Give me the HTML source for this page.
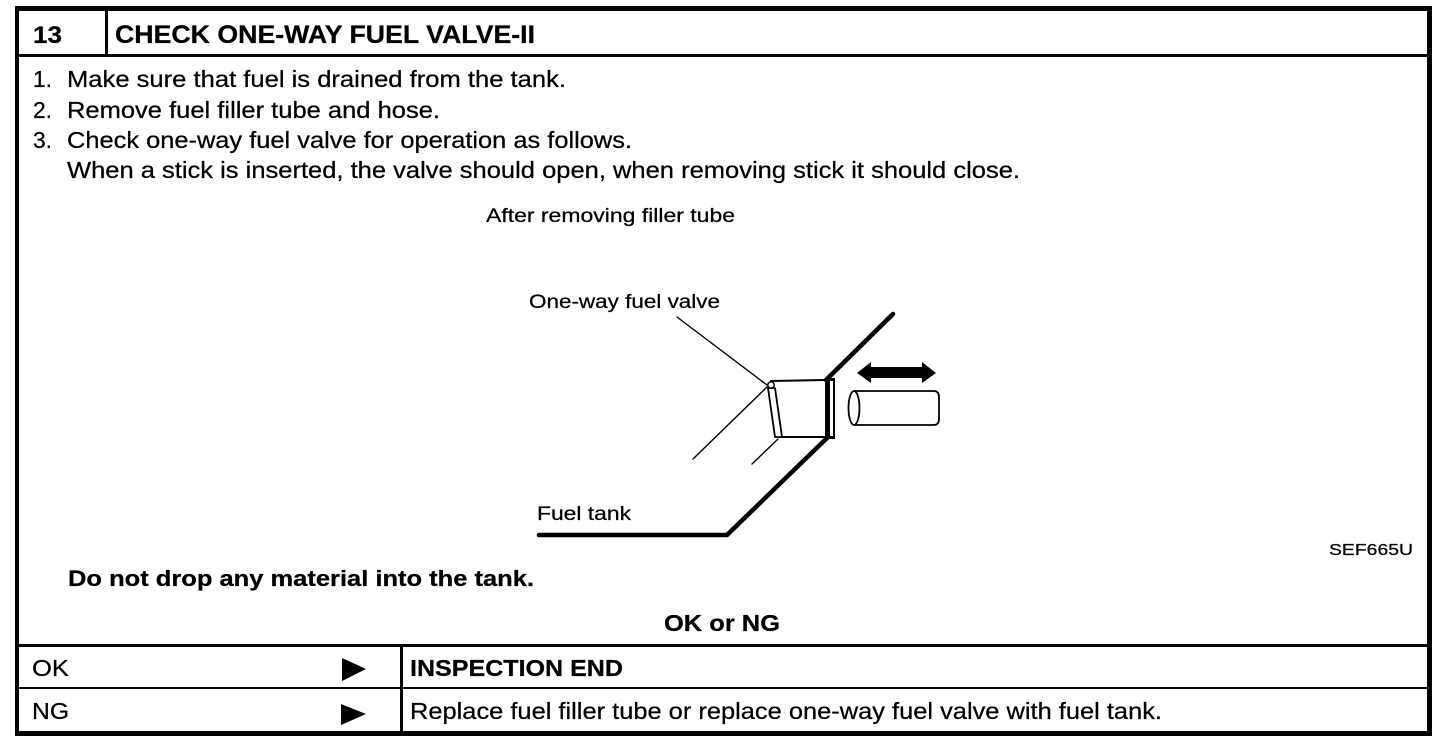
<!DOCTYPE html>
<html><head><meta charset="utf-8"><style>
html,body{margin:0;padding:0;background:#fff}
svg{display:block}
text{font-family:"Liberation Sans",sans-serif;fill:#000;stroke:#000;stroke-width:.25px}
.b{font-weight:bold}
</style></head><body>
<svg width="1456" height="750" viewBox="0 0 1456 750" xmlns="http://www.w3.org/2000/svg">
<rect width="1456" height="750" fill="#fff"/>
<!-- frame -->
<rect x="15" y="6" width="1417" height="5" fill="#000"/>
<rect x="15" y="6" width="4" height="730" fill="#000"/>
<rect x="1427" y="6" width="5" height="730" fill="#000"/>
<rect x="15" y="731" width="1416" height="5" fill="#000"/>
<rect x="15" y="54" width="1414" height="3" fill="#000"/>
<rect x="105" y="8" width="3" height="48" fill="#000"/>
<rect x="15" y="644" width="1414" height="3" fill="#000"/>
<rect x="15" y="687" width="1414" height="2" fill="#000"/>
<rect x="400" y="645" width="3" height="88" fill="#000"/>
<!-- header -->
<text class="b" x="33" y="43" font-size="24" textLength="29" lengthAdjust="spacingAndGlyphs">13</text>
<text class="b" x="115" y="43" font-size="25" textLength="420" lengthAdjust="spacingAndGlyphs">CHECK ONE-WAY FUEL VALVE-II</text>
<!-- steps -->
<text x="33" y="87" font-size="23" textLength="19" lengthAdjust="spacingAndGlyphs">1.</text>
<text x="67" y="87" font-size="23" textLength="499" lengthAdjust="spacingAndGlyphs">Make sure that fuel is drained from the tank.</text>
<text x="33" y="118" font-size="23" textLength="19" lengthAdjust="spacingAndGlyphs">2.</text>
<text x="67" y="118" font-size="23" textLength="373" lengthAdjust="spacingAndGlyphs">Remove fuel filler tube and hose.</text>
<text x="33" y="148" font-size="23" textLength="19" lengthAdjust="spacingAndGlyphs">3.</text>
<text x="67" y="148" font-size="23" textLength="565" lengthAdjust="spacingAndGlyphs">Check one-way fuel valve for operation as follows.</text>
<text x="67" y="178" font-size="23" textLength="953" lengthAdjust="spacingAndGlyphs">When a stick is inserted, the valve should open, when removing stick it should close.</text>
<!-- figure labels -->
<text x="486" y="222" font-size="19" textLength="249" lengthAdjust="spacingAndGlyphs">After removing filler tube</text>
<text x="529" y="308" font-size="19" textLength="191" lengthAdjust="spacingAndGlyphs">One-way fuel valve</text>
<text x="537" y="520" font-size="19" textLength="94" lengthAdjust="spacingAndGlyphs">Fuel tank</text>
<text x="1329" y="555" font-size="16" textLength="84" lengthAdjust="spacingAndGlyphs">SEF665U</text>
<!-- figure -->
<g fill="none" stroke="#000" stroke-linecap="round" stroke-linejoin="round">
<path d="M677 317L767 385" stroke-width="1.4"/>
<path d="M767 387L693 459" stroke-width="1.4"/>
<path d="M778 439L752 464" stroke-width="1.4"/>
<path d="M893 314L826 380" stroke-width="4.500"/>
<path d="M827 438L727 535H539" stroke-width="4.500"/>
<path d="M771 381L825 380M782 437L825 437" stroke-width="2"/>
<path d="M768 388L775 388L782 437L775 437Z" stroke-width="1.800" fill="#fff"/>
<circle cx="771" cy="385" r="3.2" stroke-width="1.4" fill="#fff"/>
<path d="M854 391H934Q939 391 939 397V419Q939 425 934 425H854" stroke-width="1.800"/>
<ellipse cx="854" cy="408" rx="5.500" ry="17" stroke-width="1.800"/>
</g>
<rect x="825" y="378" width="10" height="61" fill="#000"/>
<rect x="830" y="381" width="3" height="55" fill="#fff"/>
<path d="M857 373L871 362V367H922V362L936 373L922 383V378H871V383Z" fill="#000"/>
<!-- bottom -->
<text class="b" x="68" y="586" font-size="22.500" textLength="466" lengthAdjust="spacingAndGlyphs">Do not drop any material into the tank.</text>
<text class="b" x="664" y="631" font-size="23" textLength="116" lengthAdjust="spacingAndGlyphs">OK or NG</text>
<text x="32" y="676" font-size="23" textLength="37" lengthAdjust="spacingAndGlyphs">OK</text>
<text x="32" y="719" font-size="23" textLength="37" lengthAdjust="spacingAndGlyphs">NG</text>
<path d="M342 658L366 669L342 681Z" fill="#000"/>
<path d="M341 704L366 714L341 725Z" fill="#000"/>
<text class="b" x="410" y="676" font-size="23" textLength="213" lengthAdjust="spacingAndGlyphs">INSPECTION END</text>
<text x="410" y="719" font-size="23" textLength="752" lengthAdjust="spacingAndGlyphs">Replace fuel filler tube or replace one-way fuel valve with fuel tank.</text>
</svg>
</body></html>
